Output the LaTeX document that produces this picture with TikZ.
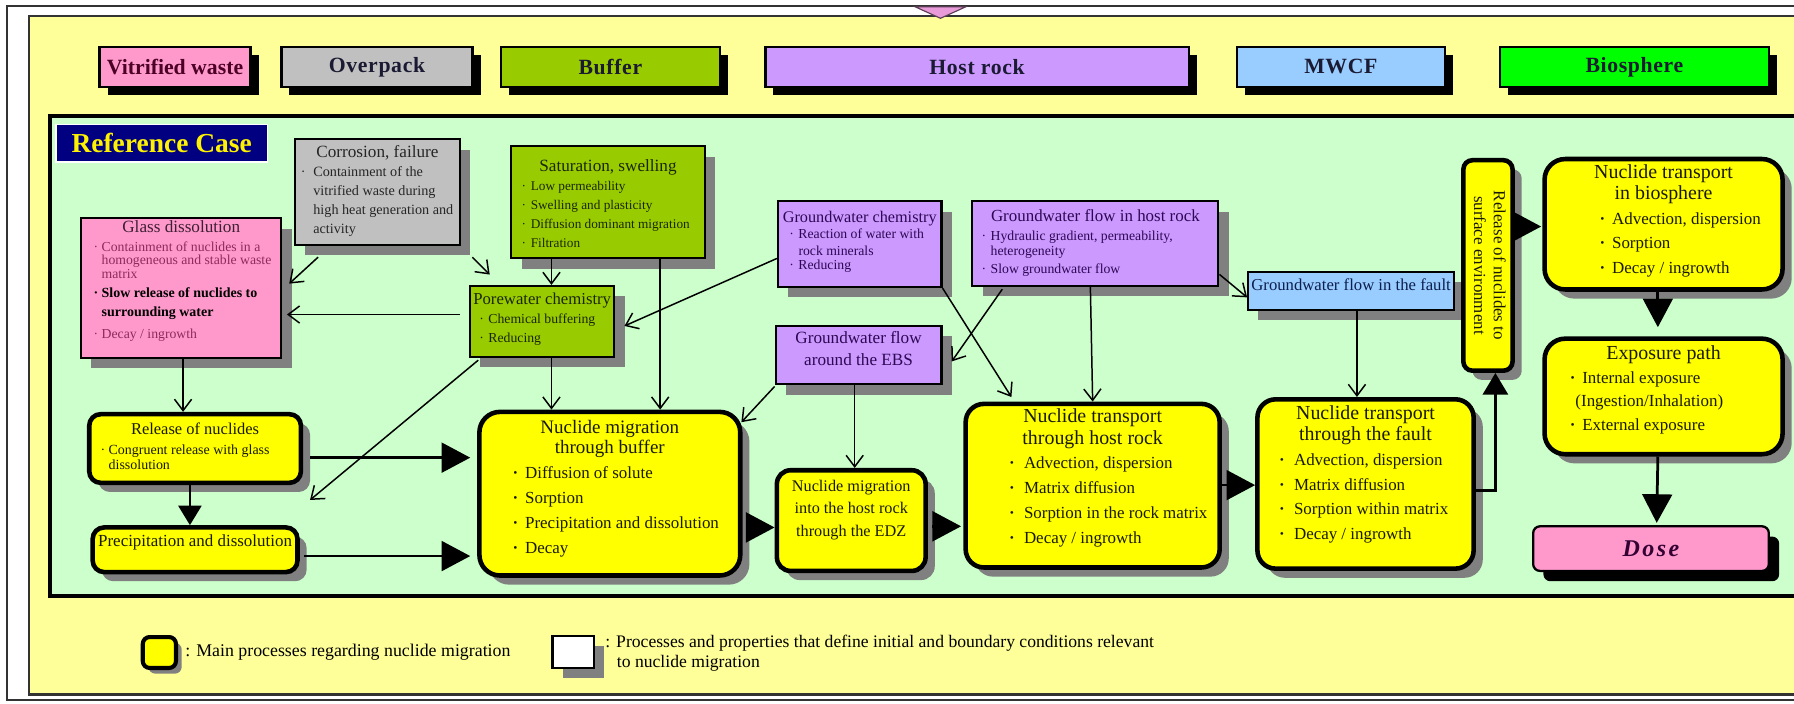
\documentclass[tikz,border=0pt]{standalone}
\usepackage{fontspec}
\usepackage{graphicx}
\setmainfont{Liberation Serif}
\newfontfamily\hdrfont{Liberation Serif}[LetterSpace=3]
\newfontfamily\dosefont{Liberation Serif}[LetterSpace=10]
\usetikzlibrary{arrows.meta,shadows,calc}
\definecolor{ypanel}{HTML}{FFFF99}
\definecolor{gpanel}{HTML}{CCFFCC}
\definecolor{cpink}{HTML}{FF99CC}
\definecolor{cgray}{HTML}{C0C0C0}
\definecolor{cbuf}{HTML}{99CC00}
\definecolor{cpurp}{HTML}{CC99FF}
\definecolor{cblue}{HTML}{99CCFF}
\definecolor{cbio}{HTML}{00FF00}
\definecolor{cyel}{HTML}{FFFF00}
\definecolor{cnavy}{HTML}{000080}
\definecolor{cshadow}{HTML}{808080}
\definecolor{ctri}{HTML}{E89BD8}
\definecolor{thdr}{HTML}{1A1A33}
\definecolor{tvit}{HTML}{4D0026}
\definecolor{tgray}{HTML}{262626}
\definecolor{tglass}{HTML}{3D1F33}
\definecolor{tglassb}{HTML}{8E2A5C}
\definecolor{tgreen}{HTML}{1A2600}
\definecolor{tpurp}{HTML}{2E0854}
\definecolor{tblue}{HTML}{0D1F4D}
\definecolor{tyel}{HTML}{1A1A00}
\definecolor{tdose}{HTML}{330033}
\newcommand{\fs}[2]{\fontsize{#1}{#2}\selectfont}
\newcommand{\bul}[4]{\par\noindent\hspace*{#1}\makebox[#2][l]{#3}\parbox[t]{\dimexpr\linewidth-#1-#2\relax}{\raggedright #4}\par}
\newcommand{\sbul}[3]{\bul{#1}{#2}{·}{#3}}
\newcommand{\mbul}[3]{\bul{#1}{#2}{\textbf{·}}{#3}}
\newcommand{\boxtext}[4]{\begin{minipage}[c][#2][t]{#1}\raggedright\vspace*{#3}#4\end{minipage}}
\newcommand{\ctitle}[1]{{\centering #1\par}}
\begin{document}
\begin{tikzpicture}[x=0.5pt,y=-0.5pt,
  hdr/.style={draw=black, line width=1pt, inner sep=0pt, anchor=north west,
    font=\hdrfont\bfseries\fs{9.5}{11}, text=thdr,
    drop shadow={shadow xshift=3.5pt, shadow yshift=-3.5pt, fill=black, opacity=1}},
  cond/.style={draw=black, line width=0.9pt, inner sep=0pt, anchor=north west,
    drop shadow={shadow xshift=4.5pt, shadow yshift=-4.5pt, fill=cshadow, opacity=1}},
  mainbox/.style={draw=black, fill=cyel, line width=2pt, rounded corners=7pt, inner sep=0pt,
    anchor=north west, text=tyel,
    drop shadow={shadow xshift=4pt, shadow yshift=-4pt, fill=cshadow, opacity=1}},
  ar/.style={line width=0.65pt, -{Straight Barb[length=5pt,width=7.5pt]}},
  thk/.style={line width=1.2pt, -{Triangle[length=12.5pt,width=13pt]}},
  thks/.style={line width=1.2pt, -{Triangle[length=8.5pt,width=10pt]}}
]
\useasboundingbox (0,0) rectangle (1568,615);
\clip (0,0) rectangle (1568,615);
\fill[white] (0,0) rectangle (1568,615);
% outer frame and panels
\draw[line width=0.7pt, black!80] (6,5) rectangle (1600,612);
\draw[fill=ypanel, draw=black!80, line width=0.9pt] (25,14) rectangle (1600,607);
\draw[fill=ctri, draw=black!60!ctri, line width=0.5pt] (800,6) -- (844,6) -- (822,16) -- cycle;
% header boxes
\node[hdr, fill=cpink, text=tvit, font=\bfseries\fs{9.5}{11}, minimum width=66pt, minimum height=17.5pt] (hvw) at (86,40) {Vitrified waste};
\node[hdr, fill=cgray, minimum width=83.5pt, minimum height=17.5pt] (hop) at (245,40) {Overpack};
\node[hdr, fill=cbuf, minimum width=95.5pt, minimum height=17.5pt] (hbf) at (437,40) {Buffer};
\node[hdr, fill=cpurp, minimum width=185pt, minimum height=17.5pt] (hhr) at (668,40) {Host rock};
\node[hdr, fill=cblue, minimum width=91pt, minimum height=17.5pt] (hmw) at (1080,40) {MWCF};
\node[hdr, fill=cbio, minimum width=117.5pt, minimum height=17.5pt] (hbs) at (1310,40) {Biosphere};
% green panel
\draw[fill=gpanel, draw=black, line width=1.8pt] (44,101.5) rectangle (1620,521);
\node[draw=white, fill=cnavy, line width=0.8pt, inner sep=0pt, anchor=north west,
  minimum width=92.5pt, minimum height=16.5pt, text=yellow, font=\bfseries\fs{12}{14}] (ref) at (48,108) {Reference Case};
% condition boxes
\node[cond, fill=cgray, text=tgray, minimum width=72pt, minimum height=46pt] (corr) at (257,121)
 {\boxtext{68pt}{46pt}{2.6pt}{\ctitle{\fs{7.5}{9}Corrosion, failure}\fs{6.2}{8.3}\sbul{0.5pt}{5.5pt}{Containment of the\\vitrified waste during\\high heat generation and\\activity}}};
\node[cond, fill=cpink, text=tglassb, minimum width=87.5pt, minimum height=61pt] (glass) at (70,190)
 {\boxtext{84.5pt}{61pt}{1.1pt}{\ctitle{\color{tglass}\fs{7.5}{9}Glass dissolution}\fs{6}{6}\vspace{2pt}\sbul{4pt}{3.5pt}{Containment of nuclides in a\\homogeneous and stable waste\\matrix}\vspace{3pt}{\color{black}\bfseries\fs{6.1}{8}\sbul{4pt}{3.5pt}{Slow release of nuclides to\\surrounding water}}\vspace{3.5pt}\sbul{4pt}{3.5pt}{Decay / ingrowth}}};
\node[cond, fill=cbuf, text=tgreen, minimum width=84.5pt, minimum height=49pt] (sat) at (446,127)
 {\boxtext{80.5pt}{49pt}{6pt}{\ctitle{\fs{7.5}{9}Saturation, swelling}\fs{5.8}{8.3}\sbul{2.5pt}{4pt}{Low permeability}\sbul{2.5pt}{4pt}{Swelling and plasticity}\sbul{2.5pt}{4pt}{Diffusion dominant migration}\sbul{2.5pt}{4pt}{Filtration}}};
\node[cond, fill=cbuf, text=tgreen, minimum width=63pt, minimum height=31pt] (pore) at (410,249)
 {\boxtext{61pt}{31pt}{3.2pt}{\ctitle{\fs{7.3}{9}Porewater chemistry}\fs{6}{8.3}\sbul{3pt}{4pt}{Chemical buffering}\sbul{3pt}{4pt}{Reducing}}};
\node[cond, fill=cpurp, text=tpurp, minimum width=71.5pt, minimum height=37.5pt] (gwc) at (679,175)
 {\boxtext{67.5pt}{37.5pt}{4.3pt}{\ctitle{\fs{7.1}{9}Groundwater chemistry}\fs{6}{7.2}\sbul{3pt}{4pt}{Reaction of water with\\rock minerals}\vspace{1pt}\sbul{3pt}{4pt}{Reducing}}};
\node[cond, fill=cpurp, text=tpurp, minimum width=107.5pt, minimum height=37pt] (gwh) at (849,175)
 {\boxtext{103.5pt}{37pt}{3.7pt}{\ctitle{\fs{7.4}{9}Groundwater flow in host rock}\fs{6}{6.8}\vspace{1.3pt}\sbul{2pt}{4pt}{Hydraulic gradient, permeability,\\heterogeneity}\vspace{1.2pt}\sbul{2pt}{4pt}{Slow groundwater flow}}};
\node[cond, fill=cpurp, text=tpurp, minimum width=72.5pt, minimum height=25.5pt] (ebs) at (677,284)
 {\boxtext{68.5pt}{25.5pt}{2.6pt}{\fs{7.5}{9.5}\ctitle{Groundwater flow\\around the EBS}}};
\node[cond, fill=cblue, text=tblue, minimum width=90pt, minimum height=16.5pt] (fgw) at (1090,237)
 {\boxtext{88pt}{16.5pt}{2.7pt}{\ctitle{\fs{7.3}{9}Groundwater flow in the fault}}};
% main process boxes
\node[mainbox, rounded corners=5pt, minimum width=92.5pt, minimum height=30pt] (rel) at (76,360)
 {\boxtext{88.5pt}{30pt}{3.75pt}{\ctitle{\fs{7.2}{9}Release of nuclides}\fs{6.1}{6.5}\vspace{2.2pt}\sbul{3pt}{3.5pt}{Congruent release with glass\\dissolution}}};
\node[mainbox, rounded corners=5pt, minimum width=89.5pt, minimum height=19.5pt] (prc) at (79,459)
 {\boxtext{87.5pt}{19.5pt}{3.2pt}{\ctitle{\fs{7.4}{9}Precipitation and dissolution}}};
\node[mainbox, rounded corners=9pt, minimum width=114pt, minimum height=71.5pt] (buf) at (417,358)
 {\boxtext{110pt}{71.5pt}{3.8pt}{\ctitle{\fs{8.3}{8.5}Nuclide migration\\through buffer}\fs{7.4}{11}\mbul{12.5pt}{5.5pt}{Diffusion of solute}\mbul{12.5pt}{5.5pt}{Sorption}\mbul{12.5pt}{5.5pt}{Precipitation and dissolution}\mbul{12.5pt}{5.5pt}{Decay}}};
\node[mainbox, rounded corners=6pt, minimum width=65pt, minimum height=44pt] (edz) at (677,409)
 {\boxtext{63pt}{44pt}{4.3pt}{\fs{7.1}{9.8}\ctitle{Nuclide migration\\into the host rock\\through the EDZ}}};
\node[mainbox, rounded corners=8pt, minimum width=111pt, minimum height=71.5pt] (host) at (842,351)
 {\boxtext{107pt}{71.5pt}{2.1pt}{\ctitle{\fs{8.7}{9.5}Nuclide transport\\through host rock}\fs{7.4}{10.8}\mbul{17pt}{6.5pt}{Advection, dispersion}\mbul{17pt}{6.5pt}{Matrix diffusion}\mbul{17pt}{6.5pt}{Sorption in the rock matrix}\mbul{17pt}{6.5pt}{Decay / ingrowth}}};
\node[mainbox, rounded corners=8pt, minimum width=94.5pt, minimum height=74pt] (flt) at (1097,347)
 {\boxtext{90.5pt}{74pt}{2.6pt}{\ctitle{\fs{8.7}{9.5}Nuclide transport\\through the fault}\fs{7.4}{10.8}\mbul{7.5pt}{6.5pt}{Advection, dispersion}\mbul{7.5pt}{6.5pt}{Matrix diffusion}\mbul{7.5pt}{6.5pt}{Sorption within matrix}\mbul{7.5pt}{6.5pt}{Decay / ingrowth}}};
\node[mainbox, rounded corners=4pt, minimum width=21.5pt, minimum height=92pt] (rls) at (1277,138)
 {\rotatebox{-90}{\fs{7.4}{8.7}\begin{tabular}{@{}c@{}}Release of nuclides to\\surface environment\end{tabular}}};
\node[mainbox, rounded corners=9pt, minimum width=104pt, minimum height=57pt] (bio) at (1348,137)
 {\boxtext{100pt}{57pt}{2.6pt}{\ctitle{\fs{8.7}{9}Nuclide transport\\in biosphere}\fs{7.4}{10.8}\mbul{22pt}{5.5pt}{Advection, dispersion}\mbul{22pt}{5.5pt}{Sorption}\mbul{22pt}{5.5pt}{Decay / ingrowth}}};
\node[mainbox, rounded corners=9pt, minimum width=104pt, minimum height=50.5pt] (exp) at (1348,294)
 {\boxtext{100pt}{50.5pt}{3.1pt}{\ctitle{\fs{8.7}{9}Exposure path}\fs{7.4}{10.3}\mbul{9pt}{5.5pt}{Internal exposure}\par\noindent\hspace*{11.5pt}(Ingestion/Inhalation)\par\mbul{9pt}{5.5pt}{External exposure}}};
\node[draw=black, fill=cpink, line width=1pt, rounded corners=3pt, inner sep=0pt, anchor=north west,
  minimum width=103pt, minimum height=19.5pt, text=tdose, font=\dosefont\bfseries\itshape\fs{10.5}{12},
  drop shadow={shadow xshift=4.5pt, shadow yshift=-4.5pt, fill=black, opacity=1}] (dose) at (1339,459) {Dose};
% thin connectors
\draw[ar] ($(corr.south west)+(21,10)$) -- ($(glass.east)+(6,-4)$);
\draw[ar] ($(corr.south east)+(10,10)$) -- ($(pore.north west)+(18,-9)$);
\draw[ar] ($(pore.west)+(-8,-6)$) -- ($(glass.east)+(4,23)$);
\draw[ar] ($(sat.south west)+(36,0)$) -- ($(pore.north west)+(72,0)$);
\draw[ar] ($(sat.south west)+(131,0)$) -- ($(buf.north west)+(160,0)$);
\draw[ar] ($(pore.south west)+(72,0)$) -- ($(buf.north west)+(65,0)$);
\coordinate (pend) at ($(rel.south east)+(6,13)$);
\draw[ar] ($(pore.south west)+(8,2)$) -- (pend);
\draw[ar] ($(gwc.west)+(0,12.5)$) -- ($(pore.east)+(8,4)$);
\draw[ar] (gwc.south east) -- ($(host.north west)+(42,-4)$);
\draw[ar] ($(gwh.south west)+(27,2)$) -- ($(ebs.east)+(8,5.5)$);
\draw[ar] ($(gwh.south west)+(104,0)$) -- (host.north);
\draw[ar] ($(gwh.south east)+(0,-11)$) -- ($(fgw.west)+(0,5.5)$);
\draw[ar] ($(fgw.south west)+(96,0)$) -- ($(flt.north west)+(89,0)$);
\draw[ar] ($(ebs.south west)+(0,1)$) -- ($(buf.north east)+(-1,11)$);
\draw[ar] ($(ebs.south west)+(70,0)$) -- ($(edz.north west)+(70,0)$);
\draw[ar] ($(glass.south west)+(90,0)$) -- ($(rel.north west)+(84,0)$);
% thick connectors
\draw[thks] ($(rel.south west)+(90,0)$) -- ($(prc.north west)+(87,0)$);
\draw[thk] ($(rel.east)+(6,8)$) -- ($(buf.west)+(-6,-31.5)$);
\draw[thk] ($(prc.east)+(4,5.5)$) -- ($(buf.west)+(-6,54.5)$);
\draw[thk] ($(buf.east)+(4,29.5)$) -- ($(edz.west)+(0,6)$);
\draw[thk] ($(edz.east)+(4,5)$) -- ($(host.west)+(-2,35.5)$);
\draw[thk] ($(host.east)+(0,-0.5)$) -- ($(flt.west)+(0,1)$);
\draw[line width=1.2pt, -{Triangle[length=9.5pt,width=11pt]}] ($(flt.east)+(0,6)$) -| ($(rls.south)+(6.5,0)$);
\draw[thk] ($(rls.east)+(0,-34)$) -- ($(bio.west)+(-1,2)$);
\draw[thk] ($(bio.south)+(-5,0)$) -- ($(exp.north)+(-5,-8)$);
\draw[thk] ($(exp.south)+(-5,0)$) -- ($(dose.north)+(5,-2)$);
% legend
\node[draw=black, fill=cyel, line width=1.8pt, rounded corners=3pt, inner sep=0pt, anchor=north west,
  minimum width=14.5pt, minimum height=13.5pt,
  drop shadow={shadow xshift=2.5pt, shadow yshift=-2.5pt, fill=cshadow, opacity=1}] (lg1) at (123,555) {};
\node[anchor=west, inner sep=0pt, font=\fs{7.8}{9}, text=black] (lg1t) at ($(lg1.east)+(6,0)$) {: Main processes regarding nuclide migration};
\node[cond, fill=white, minimum width=18pt, minimum height=14pt] (lg2) at (482,555) {};
\node[anchor=west, inner sep=0pt, align=left, font=\fs{7.7}{9}, text=black] (lg2t) at ($(lg2.east)+(9,1)$) {: Processes and properties that define initial and boundary conditions relevant\\\hspace*{5pt}to nuclide migration};
\end{tikzpicture}
\end{document}
